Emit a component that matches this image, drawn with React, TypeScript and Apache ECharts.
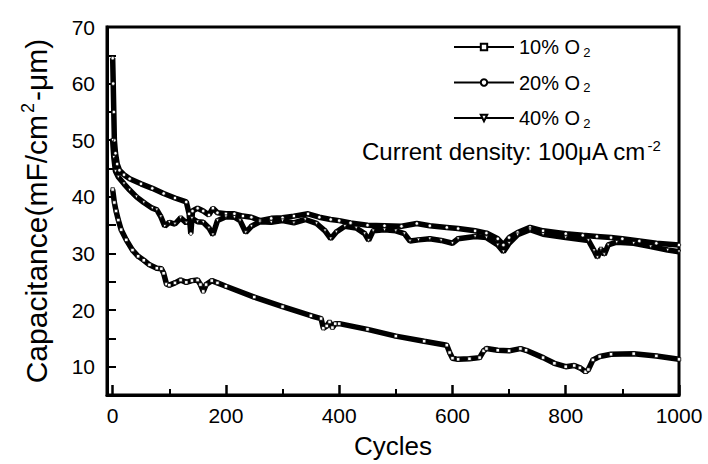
import React, { useEffect, useRef } from "react";
import * as echarts from "echarts";

const yTickLabels = [10, 20, 30, 40, 50, 60, 70];

const seriesNames = ["10% O2", "20% O2", "40% O2"];

const cycles10 = [0, 3, 6, 10, 15, 24, 35, 45, 55, 65, 78, 86, 90, 95, 100, 110, 120, 130, 140, 150, 155, 160, 165, 175, 185, 200, 250, 300, 350, 368, 372, 378, 383, 388, 393, 400, 450, 500, 550, 590, 595, 600, 610, 630, 648, 655, 660, 680, 700, 720, 730, 760, 780, 800, 815, 825, 835, 840, 848, 860, 880, 920, 960, 1000];
const cap10 = [41.3, 39, 37.5, 35.9, 34.2, 32.4, 30.6, 29.5, 28.8, 28, 27.4, 27.3, 26.5, 24.6, 24.4, 24.8, 25.3, 24.9, 25.2, 25.3, 24.5, 23.3, 24.5, 25.2, 24.8, 24.2, 22.3, 20.6, 19, 18.5, 16.8, 17.2, 17.9, 16.9, 17.6, 17.6, 16.6, 15.4, 14.5, 13.8, 12.5, 11.5, 11.3, 11.4, 11.6, 12.8, 13.2, 12.9, 12.8, 13.2, 12.9, 11.6, 10.6, 10, 10.2, 9.8, 9.1, 9.5, 11.2, 11.8, 12.2, 12.3, 11.9, 11.3];

const cycles20 = [0, 1, 2, 3, 5, 8, 12, 20, 30, 50, 70, 90, 110, 130, 135, 138, 141, 150, 160, 170, 177, 185, 200, 215, 230, 245, 260, 280, 300, 320, 345, 365, 385, 400, 420, 450, 480, 510, 537, 560, 590, 610, 640, 660, 680, 690, 700, 715, 737, 760, 800, 830, 855, 880, 900, 930, 960, 1000];
const cap20 = [64.5, 60, 55, 50, 47.7, 45.8, 44.7, 43.9, 43.2, 42.3, 41.5, 40.6, 39.8, 39.1, 37, 33.5, 37.5, 38, 37.5, 36.8, 38, 37.2, 37, 37, 36.6, 36.4, 35.8, 36.2, 36.3, 36.6, 37, 36.4, 36, 35.8, 35.4, 35, 34.9, 34.8, 35.3, 34.9, 34.6, 34.4, 34, 33.6, 32.6, 31.5, 32.8, 33.7, 34.6, 34, 33.5, 33.2, 33, 32.8, 32.6, 32.2, 31.8, 31.5];

const cycles40 = [0, 2, 5, 10, 20, 30, 42, 55, 70, 78, 85, 92, 100, 110, 120, 130, 140, 150, 160, 170, 177, 185, 200, 215, 225, 235, 245, 260, 280, 300, 320, 340, 360, 375, 385, 395, 410, 430, 445, 452, 460, 480, 500, 515, 525, 540, 560, 580, 600, 610, 640, 660, 680, 690, 700, 715, 737, 760, 800, 840, 850, 856, 862, 868, 875, 890, 920, 950, 980, 1000];
const cap40 = [50, 47, 44.5, 43.5, 42.3, 41.2, 40, 39, 38, 37.7, 36.5, 34.8, 35.5, 35.2, 36.3, 35.4, 36.2, 35.6, 35.5, 34.5, 33.3, 35.8, 36.5, 36.4, 35.8, 33.7, 34.8, 35.6, 35.5, 35.8, 35.4, 36, 35.3, 34, 32.6, 33.8, 34.8, 34.5, 33.5, 32.3, 34, 34.2, 34, 33.5, 32.2, 32.4, 32.6, 32.3, 31.8, 32.6, 33, 32.8, 31.5, 30.3, 31.8, 33.3, 34.2, 33.4, 32.8, 32.3, 30.5, 29.3, 30.8, 29.8, 31.5, 32, 31.8, 31.2, 30.6, 30.3];

const FONT = "'Liberation Sans', Arial, Helvetica, sans-serif";
const INK = "#000000";

function pairs(xs: number[], ys: number[]) {
  return xs.map((x, i) => [x, ys[i]]);
}

export default function App() {
  const ref = useRef<HTMLDivElement>(null);
  useEffect(() => {
    if (!ref.current) return;
    const chart = echarts.init(ref.current, undefined, { renderer: "svg" });
    const mkSeries = (name: string, data: number[][], symbol: string, rot: number) => ({
      name,
      type: "line",
      data,
      symbol,
      symbolSize: 3.5,
      symbolRotate: rot,
      showSymbol: true,
      lineStyle: { color: "#000", width: 5.5 },
      itemStyle: { color: "#fff", borderColor: "#000", borderWidth: 0.8 },
      emphasis: { disabled: true },
    });
    const legendRich = {
      a: { fontSize: 20, fontFamily: FONT, color: "#000" },
      s: { fontSize: 13, fontFamily: FONT, color: "#000", padding: [10, 0, 0, 3] },
    };
    chart.setOption({
      animation: false,
      backgroundColor: "#fff",
      grid: { left: 107, top: 27, right: 29, bottom: 69, show: true, borderColor: INK, borderWidth: 3 },
      legend: {
        orient: "vertical",
        left: 448,
        top: 32,
        itemWidth: 60,
        itemHeight: 8,
        itemGap: 14,
        data: seriesNames,
        formatter: (n: string) => "{a|" + n.slice(0, -1) + "}{s|2}",
        textStyle: { rich: legendRich },
      },
      graphic: [
        {
          type: "text",
          left: 362,
          top: 138,
          style: {
            text: "{a|Current density: 100μA cm}{s|-2}",
            rich: {
              a: { fontSize: 24, fontFamily: FONT, fill: "#000" },
              s: { fontSize: 15, fontFamily: FONT, fill: "#000", padding: [0, 0, 12, 1] },
            },
          },
        },
      ],
      xAxis: {
        type: "value",
        min: -10,
        max: 1000,
        name: "Cycles",
        nameLocation: "middle",
        nameGap: 38,
        nameTextStyle: { fontSize: 26, fontFamily: FONT, color: "#000" },
        axisLine: { show: true, onZero: false, lineStyle: { color: INK, width: 3 } },
        axisTick: { show: true, inside: true, length: 10, lineStyle: { color: INK, width: 2.5 } },
        minorTick: { show: true, splitNumber: 2, length: 6, lineStyle: { color: INK, width: 2 } },
        axisLabel: { fontSize: 21, fontFamily: FONT, color: "#000", margin: 10, formatter: (v: number) => String(v) },
        splitLine: { show: false },
        minorSplitLine: { show: false },
      },
      yAxis: {
        type: "value",
        min: 5,
        max: 70,
        interval: 5,
        name: "{a|Capacitance(mF/cm}{s|2}{a|-μm)}",
        nameLocation: "middle",
        nameGap: 54,
        nameRotate: 90,
        nameTextStyle: {
          rich: {
            a: { fontSize: 30, fontFamily: FONT, color: "#000" },
            s: { fontSize: 18, fontFamily: FONT, color: "#000", padding: [0, 2, 16, 2] },
          },
        },
        axisLine: { show: true, onZero: false, lineStyle: { color: INK, width: 3 } },
        axisTick: { show: true, inside: true, length: 9, lineStyle: { color: INK, width: 2 } },
        axisLabel: {
          fontSize: 21,
          fontFamily: FONT,
          color: "#000",
          margin: 12,
          formatter: (v: number) => (yTickLabels.indexOf(v) >= 0 ? String(v) : ""),
        },
        splitLine: { show: false },
      },
      series: [
        mkSeries(seriesNames[0], pairs(cycles10, cap10), "rect", 0),
        mkSeries(seriesNames[1], pairs(cycles20, cap20), "circle", 0),
        mkSeries(seriesNames[2], pairs(cycles40, cap40), "triangle", 180),
      ],
    });
    return () => chart.dispose();
  }, []);
  return <div ref={ref} style={{ width: 708, height: 464, position: "absolute", left: 0, top: 0 }} />;
}
